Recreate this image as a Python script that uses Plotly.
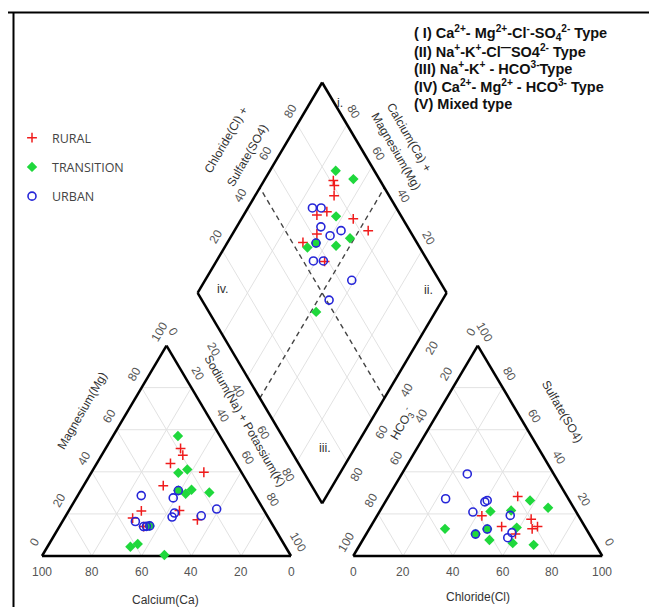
import plotly.graph_objects as go

# ---------------- DATA (percent of meq/L) ----------------
groups = ["RURAL", "TRANSITION", "URBAN"]

# Cation triangle: Ca and Mg (Na+K = remainder)
rural_ca = [18.8, 19.5, 26.4, 15.1, 34.6, 49.4, 34.0, 54.6, 29.0, 52.2]
rural_mg = [51.1, 47.9, 44.0, 39.8, 33.4, 21.4, 21.6, 18.0, 17.2, 14.0]
trans_ca = [16.9, 25.5, 21.1, 24.2, 27.5, 17.7, 62.3, 58.7, 50.6, 29.7, 49.6]
trans_mg = [57.0, 39.5, 41.1, 31.5, 29.6, 30.2, 4.4, 5.7, 0.5, 31.1, 14.3]
urban_ca = [45.8, 33.5, 29.7, 36.6, 38.5, 18.7, 26.5, 54.3, 52.2, 49.6, 51.0]
urban_mg = [28.7, 27.6, 31.1, 20.4, 18.5, 22.3, 19.1, 16.4, 14.0, 14.3, 14.1]

# Anion triangle: Cl and SO4 (HCO3 = remainder)
rural_cl = [51.9, 42.1, 62.7, 52.6, 65.4, 67.0, 59.9]
rural_so4 = [28.3, 19.1, 17.5, 14.0, 12.9, 14.0, 10.5]
trans_cl = [57.8, 66.8, 44.5, 52.6, 30.4, 58.9, 50.9, 61.0, 69.8, 43.9, 47.4]
trans_so4 = [26.4, 22.9, 21.2, 21.6, 12.9, 13.5, 7.6, 6.1, 5.3, 10.5, 12.8]
urban_cl = [26.3, 23.5, 40.0, 40.6, 37.6, 53.4, 43.9, 47.4, 58.2, 57.7]
urban_so4 = [39.0, 27.2, 25.7, 26.4, 20.9, 19.3, 10.4, 12.8, 11.1, 8.7]

# Diamond: Ca+Mg and Cl+SO4
rural_camg = [72.2, 70.6, 68.3, 67.4, 70.6, 55.1, 46.3, 66.1, 69.7, 56.5]
rural_clso4 = [81.2, 80.4, 77.9, 71.2, 66.4, 80.1, 83.3, 61.9, 54.3, 58.5]
trans_camg = [73.6, 64.5, 62.6, 51.8, 66.7, 55.6, 47.9, 64.3]
trans_clso4 = [84.5, 89.6, 73.8, 74.2, 54.9, 66.8, 43.1, 59.4]
urban_camg = [74.1, 70.6, 66.2, 60.4, 57.2, 64.3, 61.1, 57.1, 41.1, 45.5]
urban_clso4 = [66.3, 69.8, 65.2, 66.8, 72.4, 59.4, 54.1, 58.1, 64.9, 51.1]

tick_vals = [0, 20, 40, 60, 80, 100]
inner_vals = [20, 40, 60, 80]

type_lines = [
    "( I) Ca<sup>2+</sup>- Mg<sup>2+</sup>-Cl<sup>-</sup>-SO<sub>4</sub><sup>2-</sup> Type",
    "(II) Na<sup>+</sup>-K<sup>+</sup>-Cl<sup>\u2014</sup>SO4<sup>2-</sup> Type",
    "(III) Na<sup>+</sup>-K<sup>+</sup> - HCO<sup>3-</sup>Type",
    "(IV) Ca<sup>2+</sup>- Mg<sup>2+</sup> - HCO<sup>3-</sup> Type",
    "(V) Mixed type",
]

# ---------------- GEOMETRY ----------------
S3 = 0.8660254
GAP = 25.0
OFF = 100 + GAP
DB = (100 + GAP / 2, GAP / 2 * 2 * S3)  # diamond bottom vertex


def cat_xy(ca, mg):
    nak = 100 - ca - mg
    return nak + mg / 2, mg * S3


def an_xy(cl, so4):
    return OFF + cl + so4 / 2, so4 * S3


def dia_xy(camg, clso4):
    return DB[0] + 0.5 * (clso4 - camg), DB[1] + S3 * (clso4 + camg)


XS, YS = 2.49, 2.43   # pixels per data unit
X0, Y0 = 42, 556      # page pixel of data origin
PAGE = 8              # page body margin
W, H = 657 - PAGE, 607 - PAGE


def px(dx, dy):
    return dx / XS, -dy / YS


def at_px(xp, yp):
    return (xp - X0) / XS, (Y0 - yp) / YS


def paper(xp, yp):
    return (xp - PAGE) / W, 1 - (yp - PAGE) / H


def seg_trace(segs, color, width, dash="solid"):
    xs, ys = [], []
    for (a, b) in segs:
        xs += [a[0], b[0], None]
        ys += [a[1], b[1], None]
    return go.Scatter(x=xs, y=ys, mode="lines", hoverinfo="skip", showlegend=False,
                      line=dict(color=color, width=width, dash=dash))


fig = go.Figure()

# grids
grid = []
for v in inner_vals:
    grid += [(cat_xy(100 - v, v), cat_xy(0, v)), (cat_xy(v, 0), cat_xy(v, 100 - v)),
             (cat_xy(100 - v, 0), cat_xy(0, 100 - v))]
    grid += [(an_xy(100 - v, v), an_xy(0, v)), (an_xy(v, 0), an_xy(v, 100 - v)),
             (an_xy(100 - v, 0), an_xy(0, 100 - v))]
    grid += [(dia_xy(v, 0), dia_xy(v, 100)), (dia_xy(0, v), dia_xy(100, v))]
fig.add_trace(seg_trace(grid, "#e2e2e2", 1))

# dashed class boundaries
fig.add_trace(seg_trace([(dia_xy(50, 0), dia_xy(50, 100)), (dia_xy(0, 50), dia_xy(100, 50))],
                        "#444444", 1.4, "5px,4px"))


def poly(pts):
    return [(pts[i], pts[(i + 1) % len(pts)]) for i in range(len(pts))]


outl = poly([cat_xy(100, 0), cat_xy(0, 0), cat_xy(0, 100)])
outl += poly([an_xy(0, 0), an_xy(100, 0), an_xy(0, 100)])
outl += poly([dia_xy(0, 0), dia_xy(100, 0), dia_xy(100, 100), dia_xy(0, 100)])
fig.add_trace(seg_trace(outl, "#000000", 2.5))

# data
styles = {
    "RURAL": dict(symbol="cross-thin", size=7, color="#f01c1c", line=dict(color="#f01c1c", width=1.5)),
    "TRANSITION": dict(symbol="diamond", size=8, color="#1fd83c", line=dict(width=0)),
    "URBAN": dict(symbol="circle-open", size=8, color="#2626d8", line=dict(color="#2626d8", width=1.6)),
}
data = {
    "RURAL": (rural_ca, rural_mg, rural_cl, rural_so4, rural_camg, rural_clso4),
    "TRANSITION": (trans_ca, trans_mg, trans_cl, trans_so4, trans_camg, trans_clso4),
    "URBAN": (urban_ca, urban_mg, urban_cl, urban_so4, urban_camg, urban_clso4),
}
for g in groups:
    ca, mg, cl, so4, camg, clso4 = data[g]
    sets = [[cat_xy(a, b) for a, b in zip(ca, mg)],
            [an_xy(a, b) for a, b in zip(cl, so4)],
            [dia_xy(a, b) for a, b in zip(camg, clso4)]]
    for i, pts in enumerate(sets):
        fig.add_trace(go.Scatter(
            x=[p[0] for p in pts], y=[p[1] for p in pts], mode="markers",
            name=g, legendgroup=g, showlegend=(i == 0), marker=styles[g]))

# ---------------- TEXT ----------------
FAM = "Arial, Liberation Sans, sans-serif"
TF = dict(family=FAM, size=12, color="#555555")
HF = dict(family=FAM, size=12, color="#333333")
ann = []


def lab(xy, off, text, angle=0, font=TF):
    o = px(*off)
    ann.append(dict(x=xy[0] + o[0], y=xy[1] + o[1], xref="x", yref="y", text=text,
                    showarrow=False, textangle=angle, font=font))


for v in tick_vals:
    lab(cat_xy(v, 0), (0, 16), str(v))                 # Ca along bottom
    lab(cat_xy(100 - v, v), (-7.5, -14), str(v), -60)  # Mg left edge
    lab(cat_xy(0, 100 - v), (7, -14), str(v), 60)      # Na+K right edge
    lab(an_xy(v, 0), (0, 16), str(v))                  # Cl along bottom
    lab(an_xy(0, 100 - v), (-7, -14), str(v), -60)     # HCO3 left edge
    lab(an_xy(100 - v, v), (7, -14), str(v), 60)       # SO4 right edge

for v in inner_vals:
    lab(dia_xy(100, v), (-7, -14), str(v), -60)     # Cl+SO4, upper-left
    lab(dia_xy(v, 100), (7, -13), str(v), 60)       # Ca+Mg, upper-right
    lab(dia_xy(100 - v, 0), (-9, 14), str(v), 60)   # Na+K, lower-left
    lab(dia_xy(0, 100 - v), (10, 13), str(v), -60)  # HCO3, lower-right

# axis titles (page-pixel placement)
titles = [
    ((165, 600), "Calcium(Ca)", 0),
    ((478, 597), "Chloride(Cl)", 0),
    ((82, 411), "Magnesium(Mg)", -60),
    ((245, 421), "Sodium(Na) + Potassium(K)", 60),
    ((402, 424), "HCO<sub>3</sub><sup>-</sup>", -60),
    ((562, 411), "Sulfate(SO4)", 60),
    ((226, 140), "Chloride(Cl) +", -60),
    ((247, 156), "Sulfate(SO4)", -60),
    ((409, 137), "Calcium(Ca) +", 60),
    ((396, 151), "Magnesium(Mg)", 60),
]
for (p, t, a) in titles:
    lab(at_px(*p), (0, 0), t, a, HF)

# region labels
RF = dict(family=FAM, size=12.5, color="#333333")
for (p, t) in [((340, 103), "i."), ((428, 290), "ii."), ((223, 289), "iv."), ((325, 448), "iii.")]:
    lab(at_px(*p), (0, 0), t, 0, RF)

# water type list
for i, t in enumerate(type_lines):
    xp, yp = paper(412, 33 + 17.7 * i)
    ann.append(dict(x=xp, y=yp, xref="paper", yref="paper",
                    xanchor="left", yanchor="middle", text="<b>" + t + "</b>", showarrow=False,
                    font=dict(family=FAM, size=14.5, color="#111111")))

lx, ly = paper(12, 123)
fx0, fy0 = paper(8, 12.5)
fx1, _ = paper(13.5, 0)
fig.update_layout(
    width=W, height=H, autosize=False,
    margin=dict(l=0, r=0, t=0, b=0),
    paper_bgcolor="white", plot_bgcolor="white",
    xaxis=dict(range=[(PAGE - X0) / XS, (PAGE + W - X0) / XS], visible=False, fixedrange=True),
    yaxis=dict(range=[(Y0 - PAGE - H) / YS, (Y0 - PAGE) / YS], visible=False, fixedrange=True),
    annotations=ann,
    showlegend=True,
    legend=dict(x=lx, y=ly, xanchor="left", yanchor="top",
                bgcolor="rgba(0,0,0,0)", tracegroupgap=10,
                font=dict(family="Open Sans, sans-serif", size=12.5, color="#444444")),
    shapes=[
        dict(type="line", xref="paper", yref="paper", x0=fx0, x1=1, y0=fy0, y1=fy0,
             line=dict(color="black", width=2)),
        dict(type="line", xref="paper", yref="paper", x0=fx1, x1=fx1, y0=0, y1=fy0,
             line=dict(color="black", width=2)),
    ],
)

fig.write_html("out.html")
